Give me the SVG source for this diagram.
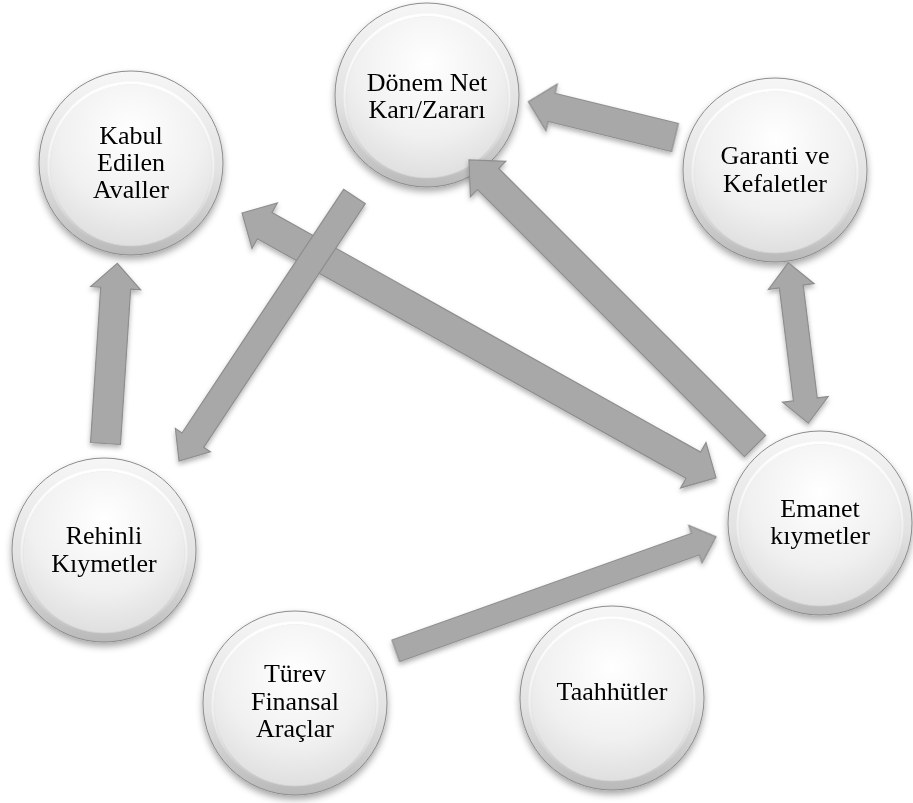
<svg xmlns="http://www.w3.org/2000/svg" width="913" height="803" viewBox="0 0 913 803">
  <defs>
    <linearGradient id="rim" x1="0" y1="0" x2="0" y2="1">
      <stop offset="0" stop-color="#f6f6f6"/>
      <stop offset="0.55" stop-color="#e2e2e2"/>
      <stop offset="1" stop-color="#b9b9b9"/>
    </linearGradient>
    <radialGradient id="face" cx="0.5" cy="0.3" r="0.75">
      <stop offset="0" stop-color="#ffffff"/>
      <stop offset="0.6" stop-color="#f0f0f0"/>
      <stop offset="1" stop-color="#dcdcdc"/>
    </radialGradient>
    <linearGradient id="hl" x1="0" y1="0" x2="0" y2="1">
      <stop offset="0" stop-color="#ffffff" stop-opacity="0.95"/>
      <stop offset="1" stop-color="#ffffff" stop-opacity="0"/>
    </linearGradient>
    <filter id="sh" x="-20%" y="-20%" width="140%" height="150%">
      <feDropShadow dx="0" dy="4" stdDeviation="3.5" flood-color="#000" flood-opacity="0.35"/>
    </filter>
    <filter id="ash" x="-10%" y="-30%" width="120%" height="160%">
      <feDropShadow dx="0" dy="3" stdDeviation="2.5" flood-color="#000" flood-opacity="0.3"/>
    </filter>
  </defs>
  <style>
    .outer { fill: url(#rim); stroke: #8c8c8c; stroke-width: 1; }
    .inner { fill: url(#face); stroke: #d0d0d0; stroke-width: 0.8; }
    .hi { fill: none; stroke: url(#hl); stroke-width: 3; }
    .lbl { font-family: "Liberation Serif", "Times New Roman", serif; font-size: 26px; fill: #000; text-anchor: middle; }
    .arr { fill: #a8a8a8; stroke: #8e8e8e; stroke-width: 1.2; stroke-linejoin: miter; }
  </style>
  <rect width="913" height="803" fill="#ffffff"/>

  <g id="node-kabul" filter="url(#sh)">
    <circle class="outer" cx="131" cy="163" r="92"/>
    <circle class="inner" cx="131" cy="165" r="81"/>
    <circle class="hi" cx="131" cy="165" r="82"/>
    <text class="lbl" x="131" y="144">Kabul</text>
    <text class="lbl" x="131" y="171">Edilen</text>
    <text class="lbl" x="131" y="198">Avaller</text>
  </g>

  <g id="node-donem" filter="url(#sh)">
    <circle class="outer" cx="427" cy="95" r="92"/>
    <circle class="inner" cx="427" cy="97" r="81"/>
    <circle class="hi" cx="427" cy="97" r="82"/>
    <text class="lbl" x="427" y="91">Dönem Net</text>
    <text class="lbl" x="427" y="118">Karı/Zararı</text>
  </g>

  <g id="node-garanti" filter="url(#sh)">
    <circle class="outer" cx="775" cy="170" r="92"/>
    <circle class="inner" cx="775" cy="172" r="81"/>
    <circle class="hi" cx="775" cy="172" r="82"/>
    <text class="lbl" x="775" y="164">Garanti ve</text>
    <text class="lbl" x="775" y="192">Kefaletler</text>
  </g>

  <g id="node-emanet" filter="url(#sh)">
    <circle class="outer" cx="820" cy="523" r="92"/>
    <circle class="inner" cx="820" cy="525" r="81"/>
    <circle class="hi" cx="820" cy="525" r="82"/>
    <text class="lbl" x="820" y="517">Emanet</text>
    <text class="lbl" x="820" y="544">kıymetler</text>
  </g>

  <g id="node-rehinli" filter="url(#sh)">
    <circle class="outer" cx="104" cy="550" r="92"/>
    <circle class="inner" cx="104" cy="552" r="81"/>
    <circle class="hi" cx="104" cy="552" r="82"/>
    <text class="lbl" x="104" y="544">Rehinli</text>
    <text class="lbl" x="104" y="572">Kıymetler</text>
  </g>

  <g id="node-turev" filter="url(#sh)">
    <circle class="outer" cx="295" cy="703" r="92"/>
    <circle class="inner" cx="295" cy="705" r="81"/>
    <circle class="hi" cx="295" cy="705" r="82"/>
    <text class="lbl" x="295" y="682">Türev</text>
    <text class="lbl" x="295" y="710">Finansal</text>
    <text class="lbl" x="295" y="737">Araçlar</text>
  </g>

  <g id="node-taahhutler" filter="url(#sh)">
    <circle class="outer" cx="612" cy="698" r="92"/>
    <circle class="inner" cx="612" cy="700" r="81"/>
    <circle class="hi" cx="612" cy="700" r="82"/>
    <text class="lbl" x="612" y="700">Taahhütler</text>
  </g>

  <g id="connectors" filter="url(#ash)">
    <!-- Rehinli -> Kabul -->
    <polygon class="arr" transform="translate(105.5,443.5) rotate(-86.25)" points="0,-15 155.6,-15 155.6,-25 180.6,0 155.6,25 155.6,15 0,15"/>
    <!-- Garanti -> Donem -->
    <polygon class="arr" transform="translate(675,137.5) rotate(-166.29)" points="0,-14.5 127,-14.5 127,-24 151,0 127,24 127,14.5 0,14.5"/>
    <!-- Kabul <-> Emanet -->
    <polygon class="arr" transform="translate(242,213) rotate(29.2)" points="0,0 26,-26 26,-15 517,-15 517,-26 543,0 517,26 517,15 26,15 26,26"/>
    <!-- Donem -> Rehinli -->
    <polygon class="arr" transform="translate(354.5,196.5) rotate(123.56)" points="0,-13 292.4,-13 292.4,-21 317.4,0 292.4,21 292.4,13 0,13"/>
    <!-- Emanet -> Donem -->
    <polygon class="arr" transform="translate(755,446) rotate(-135)" points="0,-15 377.5,-15 377.5,-25 404.5,0 377.5,25 377.5,15 0,15"/>
    <!-- Garanti <-> Emanet -->
    <polygon class="arr" transform="translate(788.3,262.7) rotate(82.9)" points="0,0 24,-23 24,-12 137.8,-12 137.8,-23 161.8,0 137.8,23 137.8,12 24,12 24,23"/>
    <!-- Turev -> Emanet -->
    <polygon class="arr" transform="translate(395.8,650.8) rotate(-19.6)" points="0,-11.5 318,-11.5 318,-20 340,0 318,20 318,11.5 0,11.5"/>
  </g>
</svg>
